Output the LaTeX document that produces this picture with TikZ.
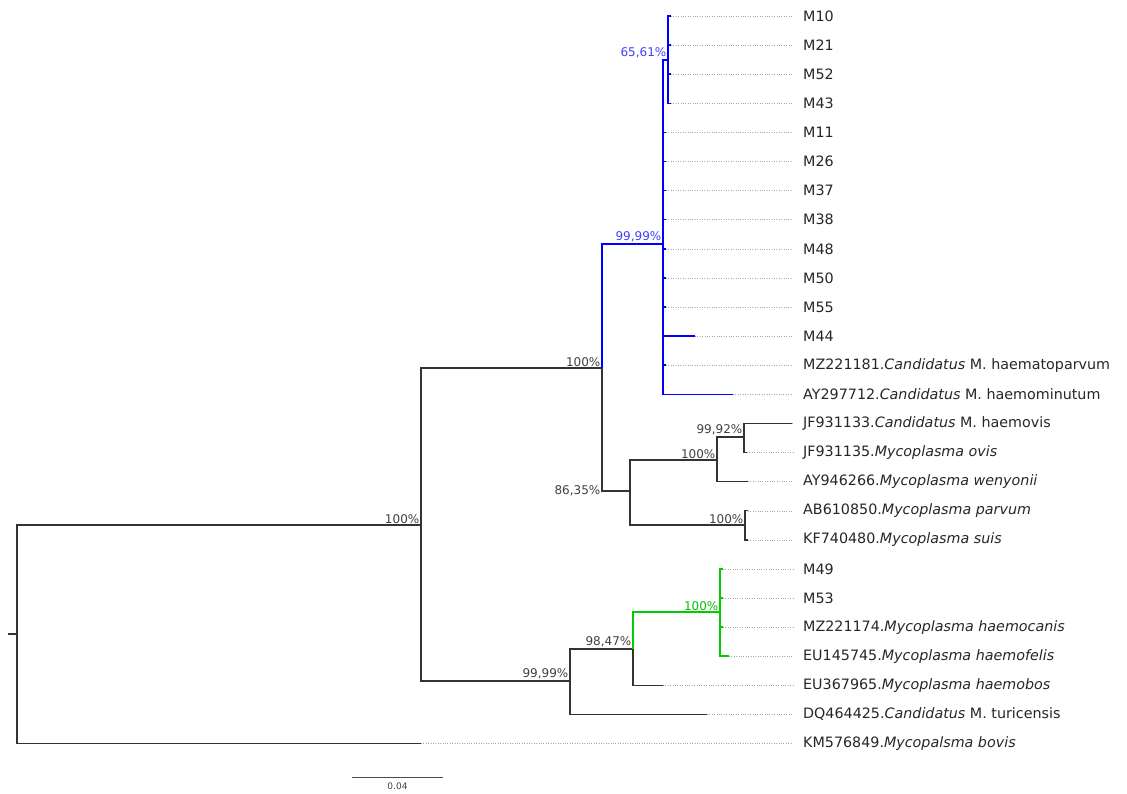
\documentclass[tikz,border=0pt]{standalone}
\usepackage{fontspec}
\setmainfont{DejaVu Sans}

\begin{document}
\begin{tikzpicture}
        [x=1pt, y=-1pt,
         blk/.style={draw=black!80, line width=1.5pt},
         blu/.style={draw=blue, line width=1.5pt},
         grn/.style={draw=green!80!black, line width=1.5pt},
         leader/.style={draw=gray!70, dotted, thin, shorten >=7pt},
         leaf/.style={anchor=west, inner sep=3pt, text=black!85, font=\fontsize{14.3}{16}\selectfont},
         pct/.style={anchor=south east, inner sep=1.5pt, text=black!75, font=\fontsize{12}{14}\selectfont}]
        \useasboundingbox (0,0) rectangle (1127,794);
        \coordinate (stub) at (8,634);
        \coordinate (root) at (17,634);
        \coordinate (n421) at (421,525);
        \coordinate (n602) at (602,368);
        \coordinate (nB) at (663,244);
        \coordinate (n6561) at (668,60);
        \coordinate (n630) at (630,491);
        \coordinate (n717) at (717,460);
        \coordinate (n744) at (744,437);
        \coordinate (n745) at (745,525);
        \coordinate (n570) at (570,681);
        \coordinate (n633) at (633,649);
        \coordinate (nG) at (720,612);
        \draw[blk] (stub) -- (root);
        \draw[blk] (root) |- (n421);
        \draw[blk] (n421) |- (n602);
        \draw[blu] (n602) |- (nB);
        \draw[blu] (nB) |- (n6561);
        \draw[blk] (n602) |- (n630);
        \draw[blk] (n630) |- (n717);
        \draw[blk] (n717) |- (n744);
        \draw[blk] (n630) |- (n745);
        \draw[blk] (n421) |- (n570);
        \draw[blk] (n570) |- (n633);
        \draw[grn] (n633) |- (nG);
        \foreach \i/\p/\tx/\c/\lab in {
            0/n6561/671/blu/M10, 1/n6561/671/blu/M21, 2/n6561/671/blu/M52, 3/n6561/671/blu/M43,
            4/nB/666/blu/M11, 5/nB/666/blu/M26, 6/nB/666/blu/M37, 7/nB/666/blu/M38,
            8/nB/666/blu/M48, 9/nB/666/blu/M50, 10/nB/666/blu/M55, 11/nB/695/blu/M44,
            12/nB/666/blu/MZ221181.\textit{Candidatus} M. haematoparvum,
            13/nB/733/blu/AY297712.\textit{Candidatus} M. haemominutum,
            14/n744/792/blk/JF931133.\textit{Candidatus} M. haemovis,
            15/n744/747/blk/JF931135.\textit{Mycoplasma ovis},
            16/n717/748/blk/AY946266.\textit{Mycoplasma wenyonii},
            17/n745/748/blk/AB610850.\textit{Mycoplasma parvum},
            18/n745/748/blk/KF740480.\textit{Mycoplasma suis},
            19/nG/723/grn/M49, 20/nG/723/grn/M53,
            21/nG/723/grn/MZ221174.\textit{Mycoplasma haemocanis},
            22/nG/729/grn/EU145745.\textit{Mycoplasma haemofelis},
            23/n633/663/blk/EU367965.\textit{Mycoplasma haemobos},
            24/n570/707/blk/DQ464425.\textit{Candidatus} M. turicensis,
            25/root/421/blk/KM576849.\textit{Mycopalsma bovis}}
          {
            \coordinate (t\i) at (\tx,{16+29.1*\i});
            \node[leaf] (l\i) at (800,{16+29.1*\i}) {\lab};
            \draw[\c] (\p) |- (t\i);
            \draw[leader] (t\i) -- (l\i);
          }
        \node[pct] (p421) at (n421) {100\%};
        \node[pct] (p602) at (n602) {100\%};
        \node[pct, text=blue!75] (pB) at (nB) {99,99\%};
        \node[pct, text=blue!75] (p6561) at (n6561) {65,61\%};
        \node[pct, anchor=east] (p630) at (n602 |- n630) {86,35\%};
        \node[pct] (p717) at (n717) {100\%};
        \node[pct] (p744) at (n744) {99,92\%};
        \node[pct] (p745) at (n745) {100\%};
        \node[pct] (p570) at (n570) {99,99\%};
        \node[pct] (p633) at (n633) {98,47\%};
        \node[pct, text=green!75!black] (pG) at (nG) {100\%};
        \coordinate (sb1) at (352,777);
        \coordinate (sb2) at (443,777);
        \draw[draw=black!70, line width=1pt] (sb1) -- node[below=2pt, text=black!75, font=\fontsize{9}{10}\selectfont] (sbl) {0.04} (sb2);
\end{tikzpicture}
\end{document}
